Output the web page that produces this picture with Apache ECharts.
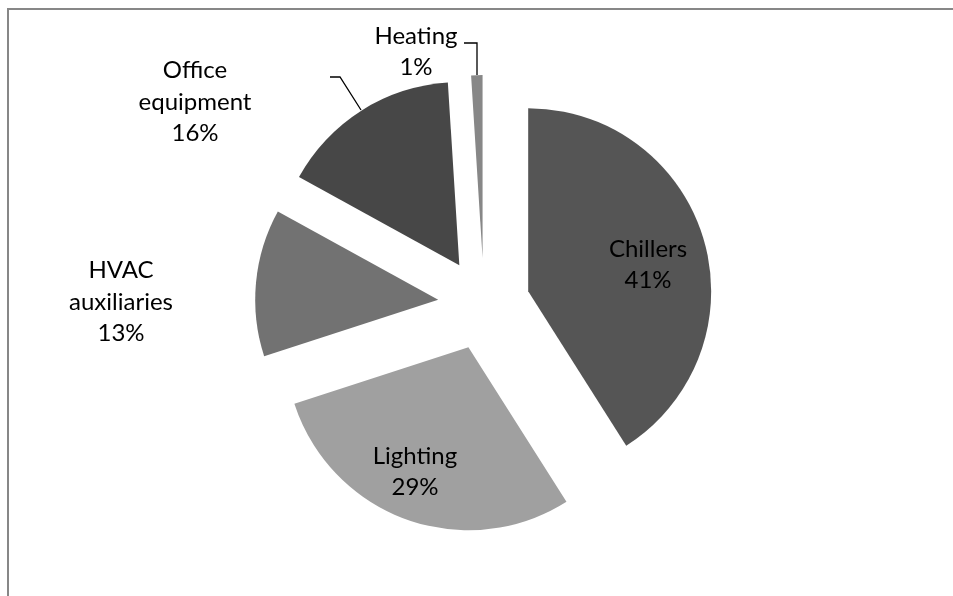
<!DOCTYPE html>
<html>
<head>
<meta charset="utf-8">
<script src="https://cdn.jsdelivr.net/npm/echarts@6/dist/echarts.min.js"></script>
<style>
html,body{margin:0;padding:0;background:#fff;}
#chart{width:953px;height:596px;}
</style>
</head>
<body>
<div id="chart"></div>
<script>
// ---- data ----
const categories = ['Chillers', 'Lighting', 'HVAC auxiliaries', 'Office equipment', 'Heating'];
const values = [41, 29, 13, 16, 1];
const labelNames = ['Chillers', 'Lighting', 'HVAC\nauxiliaries', 'Office\nequipment', 'Heating'];

// ---- styles / layout ----
const sliceColors = ['#555555', '#a0a0a0', '#727272', '#474747', '#878787'];
const labelCenters = [[648, 265], [415, 472], [121, 302], [195, 102], [416, 52]];
const leaderLines = {
  3: [[330, 77], [340, 77], [361, 110]],
  4: [[464, 43], [477, 43], [477, 75]]
};
const pieCenter = [484, 304];
const pieRadius = 183;

const chart = echarts.init(document.getElementById('chart'), null, {renderer: 'canvas'});

// exploded slices (no labels)
const sliceData = categories.map((name, i) => ({
  name: name,
  value: values[i],
  selected: true,
  itemStyle: {color: sliceColors[i]}
}));

// same data, unexploded and transparent, only carrying the labels
const labelData = categories.map((name, i) => ({
  name: name,
  value: values[i],
  labelLine: {show: !!leaderLines[i]}
}));

chart.setOption({
  animation: false,
  backgroundColor: '#ffffff',
  graphic: [{
    type: 'rect',
    shape: {x: 8, y: 9, width: 1200, height: 1200},
    style: {fill: 'none', stroke: '#878787', lineWidth: 2},
    silent: true
  }],
  series: [{
    type: 'pie',
    center: pieCenter,
    radius: [0, pieRadius],
    startAngle: 90,
    clockwise: true,
    selectedMode: 'multiple',
    selectedOffset: 46,
    itemStyle: {borderWidth: 0},
    select: {itemStyle: {borderWidth: 0}},
    emphasis: {disabled: true},
    label: {show: false},
    labelLine: {show: false},
    data: sliceData
  }, {
    type: 'pie',
    silent: true,
    center: pieCenter,
    radius: [0, pieRadius],
    startAngle: 90,
    clockwise: true,
    percentPrecision: 0,
    avoidLabelOverlap: false,
    z: 3,
    itemStyle: {color: 'rgba(0,0,0,0)', borderWidth: 0},
    emphasis: {disabled: true},
    label: {
      show: true,
      position: 'outside',
      formatter: function (p) { return labelNames[p.dataIndex] + '\n' + p.percent + '%'; },
      color: '#000',
      opacity: 1,
      fontFamily: 'Lato, "Noto Sans", sans-serif',
      fontSize: 24,
      lineHeight: 31.5,
      align: 'center'
    },
    labelLine: {
      show: true,
      lineStyle: {color: '#000', width: 1.3, opacity: 1}
    },
    labelLayout: function (params) {
      const c = labelCenters[params.dataIndex];
      const out = {x: c[0], y: c[1], align: 'center', verticalAlign: 'middle', hideOverlap: false};
      if (leaderLines[params.dataIndex]) out.labelLinePoints = leaderLines[params.dataIndex];
      return out;
    },
    data: labelData
  }]
});
</script>
</body>
</html>
